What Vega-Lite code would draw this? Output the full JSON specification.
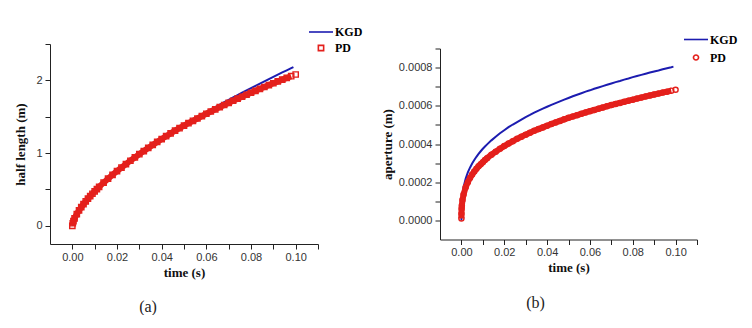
{
  "$schema": "https://vega.github.io/schema/vega-lite/v6.json",
  "background": "white",
  "padding": {"left": 14, "top": 19, "right": 0, "bottom": 0},
  "spacing": 122,
  "bounds": "flush",
  "center": true,
  "resolve": {"scale": {"color": "independent", "shape": "independent", "size": "independent"}, "legend": {"color": "independent", "shape": "independent", "size": "independent"}},
  "config": {
    "view": {"stroke": null},
    "axis": {
      "grid": false,
      "domainColor": "#222",
      "domainWidth": 1,
      "tickColor": "#222",
      "tickSize": 5,
      "labelFont": "Liberation Sans",
      "labelFontSize": 11,
      "labelColor": "#333",
      "titleFont": "Liberation Serif",
      "titleFontWeight": "bold",
      "titleFontSize": 13,
      "titleColor": "#111"
    },
    "legend": {
      "orient": "none",
      "title": null,
      "symbolStrokeWidth": 1.6,
      "labelFont": "Liberation Serif",
      "labelFontWeight": "bold",
      "labelFontSize": 12,
      "labelColor": "#000",
      "labelOffset": 1
    }
  },
  "datasets": {
    "len": [
      {"t": 0, "s": "KGD", "v": 0},
      {"t": 0.0002, "s": "KGD", "v": 0.035},
      {"t": 0.0005, "s": "KGD", "v": 0.064},
      {"t": 0.001, "s": "KGD", "v": 0.102},
      {"t": 0.002, "s": "KGD", "v": 0.162},
      {"t": 0.003, "s": "KGD", "v": 0.212},
      {"t": 0.004, "s": "KGD", "v": 0.257},
      {"t": 0.005, "s": "KGD", "v": 0.298},
      {"t": 0.006, "s": "KGD", "v": 0.337},
      {"t": 0.007, "s": "KGD", "v": 0.373},
      {"t": 0.008, "s": "KGD", "v": 0.408},
      {"t": 0.009, "s": "KGD", "v": 0.441},
      {"t": 0.010, "s": "KGD", "v": 0.473},
      {"t": 0.011, "s": "KGD", "v": 0.504},
      {"t": 0.012, "s": "KGD", "v": 0.535},
      {"t": 0.014, "s": "KGD", "v": 0.593},
      {"t": 0.016, "s": "KGD", "v": 0.648},
      {"t": 0.018, "s": "KGD", "v": 0.701},
      {"t": 0.020, "s": "KGD", "v": 0.752},
      {"t": 0.022, "s": "KGD", "v": 0.801},
      {"t": 0.024, "s": "KGD", "v": 0.848},
      {"t": 0.026, "s": "KGD", "v": 0.895},
      {"t": 0.028, "s": "KGD", "v": 0.940},
      {"t": 0.030, "s": "KGD", "v": 0.985},
      {"t": 0.032, "s": "KGD", "v": 1.028},
      {"t": 0.034, "s": "KGD", "v": 1.071},
      {"t": 0.036, "s": "KGD", "v": 1.112},
      {"t": 0.038, "s": "KGD", "v": 1.153},
      {"t": 0.040, "s": "KGD", "v": 1.193},
      {"t": 0.042, "s": "KGD", "v": 1.232},
      {"t": 0.044, "s": "KGD", "v": 1.271},
      {"t": 0.046, "s": "KGD", "v": 1.309},
      {"t": 0.048, "s": "KGD", "v": 1.346},
      {"t": 0.050, "s": "KGD", "v": 1.384},
      {"t": 0.052, "s": "KGD", "v": 1.421},
      {"t": 0.054, "s": "KGD", "v": 1.457},
      {"t": 0.056, "s": "KGD", "v": 1.492},
      {"t": 0.058, "s": "KGD", "v": 1.528},
      {"t": 0.060, "s": "KGD", "v": 1.563},
      {"t": 0.062, "s": "KGD", "v": 1.598},
      {"t": 0.064, "s": "KGD", "v": 1.632},
      {"t": 0.066, "s": "KGD", "v": 1.666},
      {"t": 0.068, "s": "KGD", "v": 1.699},
      {"t": 0.070, "s": "KGD", "v": 1.733},
      {"t": 0.072, "s": "KGD", "v": 1.766},
      {"t": 0.074, "s": "KGD", "v": 1.798},
      {"t": 0.076, "s": "KGD", "v": 1.830},
      {"t": 0.078, "s": "KGD", "v": 1.862},
      {"t": 0.080, "s": "KGD", "v": 1.894},
      {"t": 0.082, "s": "KGD", "v": 1.925},
      {"t": 0.084, "s": "KGD", "v": 1.956},
      {"t": 0.086, "s": "KGD", "v": 1.987},
      {"t": 0.088, "s": "KGD", "v": 2.018},
      {"t": 0.090, "s": "KGD", "v": 2.048},
      {"t": 0.092, "s": "KGD", "v": 2.078},
      {"t": 0.094, "s": "KGD", "v": 2.109},
      {"t": 0.096, "s": "KGD", "v": 2.138},
      {"t": 0.098, "s": "KGD", "v": 2.168},
      {"t": 0.099, "s": "KGD", "v": 2.183},
      {"t": 0, "s": "PD", "v": 0},
      {"t": 0.0002, "s": "PD", "v": 0.035},
      {"t": 0.0005, "s": "PD", "v": 0.064},
      {"t": 0.001, "s": "PD", "v": 0.102},
      {"t": 0.002, "s": "PD", "v": 0.162},
      {"t": 0.003, "s": "PD", "v": 0.212},
      {"t": 0.004, "s": "PD", "v": 0.257},
      {"t": 0.005, "s": "PD", "v": 0.298},
      {"t": 0.006, "s": "PD", "v": 0.337},
      {"t": 0.007, "s": "PD", "v": 0.373},
      {"t": 0.008, "s": "PD", "v": 0.408},
      {"t": 0.009, "s": "PD", "v": 0.441},
      {"t": 0.010, "s": "PD", "v": 0.473},
      {"t": 0.011, "s": "PD", "v": 0.504},
      {"t": 0.012, "s": "PD", "v": 0.535},
      {"t": 0.014, "s": "PD", "v": 0.593},
      {"t": 0.016, "s": "PD", "v": 0.648},
      {"t": 0.018, "s": "PD", "v": 0.701},
      {"t": 0.020, "s": "PD", "v": 0.752},
      {"t": 0.022, "s": "PD", "v": 0.801},
      {"t": 0.024, "s": "PD", "v": 0.848},
      {"t": 0.026, "s": "PD", "v": 0.895},
      {"t": 0.028, "s": "PD", "v": 0.940},
      {"t": 0.030, "s": "PD", "v": 0.985},
      {"t": 0.032, "s": "PD", "v": 1.028},
      {"t": 0.034, "s": "PD", "v": 1.071},
      {"t": 0.036, "s": "PD", "v": 1.112},
      {"t": 0.038, "s": "PD", "v": 1.153},
      {"t": 0.040, "s": "PD", "v": 1.193},
      {"t": 0.042, "s": "PD", "v": 1.232},
      {"t": 0.044, "s": "PD", "v": 1.271},
      {"t": 0.046, "s": "PD", "v": 1.308},
      {"t": 0.048, "s": "PD", "v": 1.342},
      {"t": 0.050, "s": "PD", "v": 1.377},
      {"t": 0.052, "s": "PD", "v": 1.411},
      {"t": 0.054, "s": "PD", "v": 1.444},
      {"t": 0.056, "s": "PD", "v": 1.476},
      {"t": 0.058, "s": "PD", "v": 1.509},
      {"t": 0.060, "s": "PD", "v": 1.541},
      {"t": 0.062, "s": "PD", "v": 1.572},
      {"t": 0.064, "s": "PD", "v": 1.602},
      {"t": 0.066, "s": "PD", "v": 1.632},
      {"t": 0.068, "s": "PD", "v": 1.661},
      {"t": 0.070, "s": "PD", "v": 1.691},
      {"t": 0.072, "s": "PD", "v": 1.720},
      {"t": 0.074, "s": "PD", "v": 1.748},
      {"t": 0.076, "s": "PD", "v": 1.775},
      {"t": 0.078, "s": "PD", "v": 1.802},
      {"t": 0.080, "s": "PD", "v": 1.830},
      {"t": 0.082, "s": "PD", "v": 1.856},
      {"t": 0.084, "s": "PD", "v": 1.883},
      {"t": 0.086, "s": "PD", "v": 1.909},
      {"t": 0.088, "s": "PD", "v": 1.935},
      {"t": 0.090, "s": "PD", "v": 1.960},
      {"t": 0.092, "s": "PD", "v": 1.985},
      {"t": 0.094, "s": "PD", "v": 2.010},
      {"t": 0.096, "s": "PD", "v": 2.033},
      {"t": 0.098, "s": "PD", "v": 2.057},
      {"t": 0.100, "s": "PD", "v": 2.081}
    ],
    "ap": [
      {"t": 0, "s": "KGD", "v": 0},
      {"t": 0.0002, "s": "KGD", "v": 0.000102},
      {"t": 0.0005, "s": "KGD", "v": 0.000138},
      {"t": 0.001, "s": "KGD", "v": 0.000174},
      {"t": 0.002, "s": "KGD", "v": 0.000219},
      {"t": 0.003, "s": "KGD", "v": 0.000251},
      {"t": 0.004, "s": "KGD", "v": 0.000276},
      {"t": 0.005, "s": "KGD", "v": 0.000298},
      {"t": 0.006, "s": "KGD", "v": 0.000316},
      {"t": 0.007, "s": "KGD", "v": 0.000333},
      {"t": 0.008, "s": "KGD", "v": 0.000348},
      {"t": 0.009, "s": "KGD", "v": 0.000362},
      {"t": 0.010, "s": "KGD", "v": 0.000375},
      {"t": 0.011, "s": "KGD", "v": 0.000387},
      {"t": 0.012, "s": "KGD", "v": 0.000398},
      {"t": 0.014, "s": "KGD", "v": 0.000419},
      {"t": 0.016, "s": "KGD", "v": 0.000438},
      {"t": 0.018, "s": "KGD", "v": 0.000456},
      {"t": 0.020, "s": "KGD", "v": 0.000472},
      {"t": 0.022, "s": "KGD", "v": 0.000488},
      {"t": 0.024, "s": "KGD", "v": 0.000502},
      {"t": 0.026, "s": "KGD", "v": 0.000515},
      {"t": 0.028, "s": "KGD", "v": 0.000528},
      {"t": 0.030, "s": "KGD", "v": 0.000541},
      {"t": 0.032, "s": "KGD", "v": 0.000552},
      {"t": 0.034, "s": "KGD", "v": 0.000564},
      {"t": 0.036, "s": "KGD", "v": 0.000575},
      {"t": 0.038, "s": "KGD", "v": 0.000585},
      {"t": 0.040, "s": "KGD", "v": 0.000595},
      {"t": 0.042, "s": "KGD", "v": 0.000605},
      {"t": 0.044, "s": "KGD", "v": 0.000614},
      {"t": 0.046, "s": "KGD", "v": 0.000623},
      {"t": 0.048, "s": "KGD", "v": 0.000632},
      {"t": 0.050, "s": "KGD", "v": 0.000641},
      {"t": 0.052, "s": "KGD", "v": 0.000650},
      {"t": 0.054, "s": "KGD", "v": 0.000658},
      {"t": 0.056, "s": "KGD", "v": 0.000666},
      {"t": 0.058, "s": "KGD", "v": 0.000674},
      {"t": 0.060, "s": "KGD", "v": 0.000681},
      {"t": 0.062, "s": "KGD", "v": 0.000689},
      {"t": 0.064, "s": "KGD", "v": 0.000696},
      {"t": 0.066, "s": "KGD", "v": 0.000703},
      {"t": 0.068, "s": "KGD", "v": 0.000710},
      {"t": 0.070, "s": "KGD", "v": 0.000717},
      {"t": 0.072, "s": "KGD", "v": 0.000724},
      {"t": 0.074, "s": "KGD", "v": 0.000730},
      {"t": 0.076, "s": "KGD", "v": 0.000737},
      {"t": 0.078, "s": "KGD", "v": 0.000743},
      {"t": 0.080, "s": "KGD", "v": 0.000750},
      {"t": 0.082, "s": "KGD", "v": 0.000756},
      {"t": 0.084, "s": "KGD", "v": 0.000762},
      {"t": 0.086, "s": "KGD", "v": 0.000768},
      {"t": 0.088, "s": "KGD", "v": 0.000774},
      {"t": 0.090, "s": "KGD", "v": 0.000780},
      {"t": 0.092, "s": "KGD", "v": 0.000785},
      {"t": 0.094, "s": "KGD", "v": 0.000791},
      {"t": 0.096, "s": "KGD", "v": 0.000797},
      {"t": 0.098, "s": "KGD", "v": 0.000802},
      {"t": 0.099, "s": "KGD", "v": 0.000805},
      {"t": 0, "s": "PD", "v": 0.00001},
      {"t": 0.00002, "s": "PD", "v": 0.0000347},
      {"t": 0.0001, "s": "PD", "v": 0.0000609},
      {"t": 0.0002, "s": "PD", "v": 0.0000777},
      {"t": 0.0005, "s": "PD", "v": 0.000107},
      {"t": 0.001, "s": "PD", "v": 0.000136},
      {"t": 0.002, "s": "PD", "v": 0.000174},
      {"t": 0.003, "s": "PD", "v": 0.000200},
      {"t": 0.004, "s": "PD", "v": 0.000222},
      {"t": 0.005, "s": "PD", "v": 0.000240},
      {"t": 0.006, "s": "PD", "v": 0.000256},
      {"t": 0.007, "s": "PD", "v": 0.000270},
      {"t": 0.008, "s": "PD", "v": 0.000283},
      {"t": 0.009, "s": "PD", "v": 0.000294},
      {"t": 0.010, "s": "PD", "v": 0.000305},
      {"t": 0.011, "s": "PD", "v": 0.000316},
      {"t": 0.012, "s": "PD", "v": 0.000326},
      {"t": 0.014, "s": "PD", "v": 0.000344},
      {"t": 0.016, "s": "PD", "v": 0.000360},
      {"t": 0.018, "s": "PD", "v": 0.000375},
      {"t": 0.020, "s": "PD", "v": 0.000389},
      {"t": 0.022, "s": "PD", "v": 0.000402},
      {"t": 0.024, "s": "PD", "v": 0.000415},
      {"t": 0.026, "s": "PD", "v": 0.000427},
      {"t": 0.028, "s": "PD", "v": 0.000438},
      {"t": 0.030, "s": "PD", "v": 0.000449},
      {"t": 0.032, "s": "PD", "v": 0.000459},
      {"t": 0.034, "s": "PD", "v": 0.000469},
      {"t": 0.036, "s": "PD", "v": 0.000478},
      {"t": 0.038, "s": "PD", "v": 0.000487},
      {"t": 0.040, "s": "PD", "v": 0.000496},
      {"t": 0.042, "s": "PD", "v": 0.000505},
      {"t": 0.044, "s": "PD", "v": 0.000513},
      {"t": 0.046, "s": "PD", "v": 0.000521},
      {"t": 0.048, "s": "PD", "v": 0.000529},
      {"t": 0.050, "s": "PD", "v": 0.000537},
      {"t": 0.052, "s": "PD", "v": 0.000544},
      {"t": 0.054, "s": "PD", "v": 0.000551},
      {"t": 0.056, "s": "PD", "v": 0.000558},
      {"t": 0.058, "s": "PD", "v": 0.000565},
      {"t": 0.060, "s": "PD", "v": 0.000572},
      {"t": 0.062, "s": "PD", "v": 0.000578},
      {"t": 0.064, "s": "PD", "v": 0.000585},
      {"t": 0.066, "s": "PD", "v": 0.000591},
      {"t": 0.068, "s": "PD", "v": 0.000598},
      {"t": 0.070, "s": "PD", "v": 0.000604},
      {"t": 0.072, "s": "PD", "v": 0.000610},
      {"t": 0.074, "s": "PD", "v": 0.000615},
      {"t": 0.076, "s": "PD", "v": 0.000621},
      {"t": 0.078, "s": "PD", "v": 0.000627},
      {"t": 0.080, "s": "PD", "v": 0.000632},
      {"t": 0.082, "s": "PD", "v": 0.000638},
      {"t": 0.084, "s": "PD", "v": 0.000643},
      {"t": 0.086, "s": "PD", "v": 0.000649},
      {"t": 0.088, "s": "PD", "v": 0.000654},
      {"t": 0.090, "s": "PD", "v": 0.000659},
      {"t": 0.092, "s": "PD", "v": 0.000664},
      {"t": 0.094, "s": "PD", "v": 0.000669},
      {"t": 0.096, "s": "PD", "v": 0.000674},
      {"t": 0.098, "s": "PD", "v": 0.000679},
      {"t": 0.100, "s": "PD", "v": 0.000684}
    ]
  },
  "hconcat": [
    {
      "width": 268,
      "height": 200,
      "data": {"name": "len"},
      "title": {"text": "(a)", "orient": "bottom", "anchor": "middle", "dx": -36, "offset": 20, "font": "Liberation Serif", "fontSize": 16, "fontWeight": "normal", "color": "#222"},
      "encoding": {
        "x": {"field": "t", "type": "quantitative", "scale": {"domain": [-0.01, 0.11], "nice": false, "zero": false},
          "axis": {"title": "time (s)", "values": [0, 0.01, 0.02, 0.03, 0.04, 0.05, 0.06, 0.07, 0.08, 0.09, 0.1, 0.11],
            "labelExpr": "round(datum.value*100) % 2 == 0 ? format(datum.value, '.2f') : ''", "titlePadding": 4, "labelPadding": 2,
            "encode": {"ticks": {"y2": {"condition": {"test": "round(datum.value*100) % 2 == 0", "value": 5}, "value": 3}}}}},
        "y": {"field": "v", "type": "quantitative", "scale": {"domain": [-0.25, 2.5], "nice": false, "zero": false},
          "axis": {"title": "half length (m)", "values": [0, 0.5, 1, 1.5, 2, 2.5],
            "labelExpr": "datum.value % 1 == 0 ? format(datum.value, 'd') : ''", "titlePadding": 8, "labelPadding": 3,
            "encode": {"ticks": {"x2": {"condition": {"test": "datum.value % 1 == 0", "value": -5}, "value": -3}}}}}
      },
      "layer": [
        {"transform": [{"filter": "datum.s == 'KGD'"}], "mark": {"type": "line", "color": "#1c1cb0", "strokeWidth": 2}},
        {"transform": [{"filter": "datum.s == 'PD' && datum.t < 0.0995"}], "mark": {"type": "line", "color": "#e4201c", "strokeWidth": 6}},
        {"transform": [{"filter": "datum.s == 'PD'"}],
          "mark": {"type": "point", "filled": false, "strokeWidth": 1.4, "opacity": 1},
          "encoding": {
            "color": {"field": "s", "type": "nominal", "scale": {"domain": ["KGD", "PD"], "range": ["#1c1cb0", "#e4201c"]},
              "legend": {"legendX": 258, "legendY": -25, "rowPadding": 4}},
            "shape": {"field": "s", "type": "nominal", "scale": {"domain": ["KGD", "PD"], "range": ["stroke", "square"]},
              "legend": {"legendX": 258, "legendY": -25, "rowPadding": 4}},
            "size": {"field": "s", "type": "nominal", "scale": {"type": "ordinal", "domain": ["KGD", "PD"], "range": [576, 28]},
              "legend": {"legendX": 258, "legendY": -25, "rowPadding": 4}}
          }}
      ]
    },
    {
      "width": 257,
      "height": 191,
      "data": {"name": "ap"},
      "title": {"text": "(b)", "orient": "bottom", "anchor": "middle", "dx": -33, "offset": 20, "font": "Liberation Serif", "fontSize": 16, "fontWeight": "normal", "color": "#222"},
      "encoding": {
        "x": {"field": "t", "type": "quantitative", "scale": {"domain": [-0.01, 0.11], "nice": false, "zero": false},
          "axis": {"title": "time (s)", "values": [0, 0.01, 0.02, 0.03, 0.04, 0.05, 0.06, 0.07, 0.08, 0.09, 0.1, 0.11],
            "labelExpr": "round(datum.value*100) % 2 == 0 ? format(datum.value, '.2f') : ''", "titlePadding": 4, "labelPadding": 2,
            "encode": {"ticks": {"y2": {"condition": {"test": "round(datum.value*100) % 2 == 0", "value": 5}, "value": 3}}}}},
        "y": {"field": "v", "type": "quantitative", "scale": {"domain": [-0.0001, 0.0009], "nice": false, "zero": false},
          "axis": {"title": "aperture (m)", "values": [0, 0.0001, 0.0002, 0.0003, 0.0004, 0.0005, 0.0006, 0.0007, 0.0008, 0.0009],
            "labelExpr": "round(datum.value*10000) % 2 == 0 ? format(datum.value, '.4f') : ''", "titlePadding": 4, "labelPadding": 3,
            "encode": {"ticks": {"x2": {"condition": {"test": "round(datum.value*10000) % 2 == 0", "value": -5}, "value": -3}}}}}
      },
      "layer": [
        {"transform": [{"filter": "datum.s == 'KGD'"}], "mark": {"type": "line", "color": "#1c1cb0", "strokeWidth": 2}},
        {"transform": [{"filter": "datum.s == 'PD' && datum.t < 0.0995"}], "mark": {"type": "line", "color": "#e4201c", "strokeWidth": 6}},
        {"transform": [{"filter": "datum.s == 'PD'"}],
          "mark": {"type": "point", "filled": false, "strokeWidth": 1.4, "opacity": 1},
          "encoding": {
            "color": {"field": "s", "type": "nominal", "scale": {"domain": ["KGD", "PD"], "range": ["#1c1cb0", "#e4201c"]},
              "legend": {"legendX": 243, "legendY": -22, "rowPadding": 6}},
            "shape": {"field": "s", "type": "nominal", "scale": {"domain": ["KGD", "PD"], "range": ["stroke", "circle"]},
              "legend": {"legendX": 243, "legendY": -22, "rowPadding": 6}},
            "size": {"field": "s", "type": "nominal", "scale": {"type": "ordinal", "domain": ["KGD", "PD"], "range": [576, 26]},
              "legend": {"legendX": 243, "legendY": -22, "rowPadding": 6}}
          }}
      ]
    }
  ]
}
